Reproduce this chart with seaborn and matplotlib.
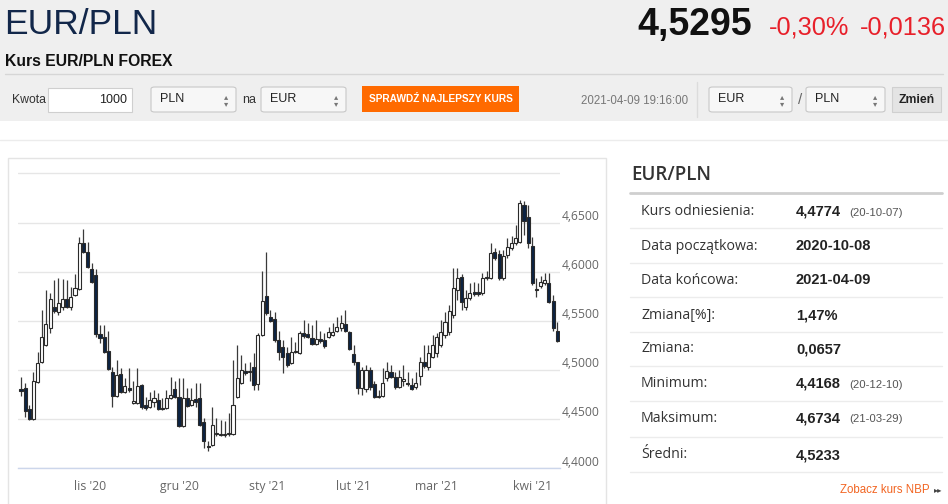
import numpy as np
import pandas as pd
import seaborn as sns
import matplotlib.pyplot as plt
import matplotlib.transforms as mtransforms
from matplotlib.patches import Rectangle, FancyBboxPatch
from matplotlib.lines import Line2D

# ---- data (EUR/PLN daily candles, 2020-10-08 .. 2021-04-09) ----
holidays = ['2020-12-25', '2021-01-01']
dates = pd.bdate_range('2020-10-08', '2021-04-09')
dates = dates[~dates.isin(pd.to_datetime(holidays))]

opens = [4.480, 4.481, 4.460, 4.450, 4.488, 4.508, 4.525, 4.543, 4.564, 4.559,
         4.564, 4.572, 4.564, 4.576, 4.582, 4.629, 4.620, 4.603, 4.597, 4.536,
         4.533, 4.519, 4.498, 4.473, 4.496, 4.477, 4.481, 4.466, 4.466, 4.485,
         4.464, 4.462, 4.467, 4.469, 4.461, 4.461, 4.471, 4.480, 4.472, 4.443,
         4.471, 4.464, 4.470, 4.471, 4.447, 4.422, 4.423, 4.435, 4.435, 4.434,
         4.435, 4.435, 4.472, 4.487, 4.499, 4.498, 4.503, 4.486, 4.535, 4.575,
         4.554, 4.552, 4.530, 4.523, 4.517, 4.507, 4.518, 4.517, 4.537, 4.536,
         4.532, 4.526, 4.531, 4.530, 4.533, 4.535, 4.540, 4.543, 4.547, 4.539,
         4.516, 4.508, 4.481, 4.480, 4.500, 4.486, 4.472, 4.473, 4.492, 4.498,
         4.493, 4.482, 4.489, 4.487, 4.485, 4.482, 4.494, 4.508, 4.503, 4.513,
         4.517, 4.525, 4.535, 4.539, 4.556, 4.581, 4.594, 4.564, 4.573, 4.579,
         4.579, 4.578, 4.593, 4.593, 4.620, 4.618, 4.593, 4.617, 4.624, 4.629,
         4.630, 4.668, 4.656, 4.626, 4.582, 4.585, 4.588, 4.588, 4.570, 4.540]
highs = [4.493, 4.487, 4.464, 4.498, 4.518, 4.561, 4.581, 4.578, 4.591, 4.593,
         4.592, 4.591, 4.584, 4.598, 4.635, 4.643, 4.630, 4.609, 4.603, 4.546,
         4.546, 4.540, 4.503, 4.510, 4.502, 4.492, 4.502, 4.489, 4.502, 4.486,
         4.472, 4.477, 4.479, 4.476, 4.471, 4.479, 4.493, 4.489, 4.492, 4.492,
         4.481, 4.481, 4.487, 4.487, 4.451, 4.428, 4.462, 4.451, 4.449, 4.448,
         4.456, 4.510, 4.525, 4.515, 4.507, 4.508, 4.517, 4.537, 4.601, 4.620,
         4.561, 4.559, 4.540, 4.530, 4.523, 4.533, 4.528, 4.540, 4.551, 4.548,
         4.546, 4.551, 4.540, 4.537, 4.544, 4.548, 4.554, 4.556, 4.561, 4.540,
         4.525, 4.508, 4.503, 4.505, 4.503, 4.489, 4.479, 4.502, 4.508, 4.505,
         4.498, 4.500, 4.505, 4.498, 4.492, 4.498, 4.513, 4.525, 4.525, 4.535,
         4.537, 4.551, 4.559, 4.566, 4.604, 4.604, 4.598, 4.581, 4.588, 4.589,
         4.588, 4.599, 4.601, 4.629, 4.624, 4.622, 4.622, 4.634, 4.636, 4.647,
         4.673, 4.672, 4.668, 4.635, 4.593, 4.596, 4.599, 4.599, 4.576, 4.549]
lows = [4.473, 4.452, 4.449, 4.449, 4.487, 4.507, 4.524, 4.537, 4.558, 4.556,
        4.561, 4.563, 4.561, 4.575, 4.581, 4.619, 4.604, 4.588, 4.533, 4.527,
        4.517, 4.500, 4.462, 4.472, 4.476, 4.476, 4.477, 4.465, 4.465, 4.460,
        4.459, 4.461, 4.462, 4.459, 4.459, 4.460, 4.470, 4.471, 4.442, 4.442,
        4.462, 4.463, 4.462, 4.443, 4.420, 4.417, 4.422, 4.433, 4.433, 4.432,
        4.433, 4.434, 4.471, 4.486, 4.495, 4.489, 4.479, 4.479, 4.534, 4.556,
        4.549, 4.528, 4.510, 4.497, 4.503, 4.506, 4.517, 4.516, 4.532, 4.532,
        4.525, 4.525, 4.527, 4.522, 4.532, 4.534, 4.539, 4.540, 4.538, 4.520,
        4.505, 4.475, 4.474, 4.477, 4.479, 4.471, 4.471, 4.472, 4.489, 4.492,
        4.480, 4.481, 4.484, 4.483, 4.479, 4.480, 4.485, 4.502, 4.500, 4.512,
        4.513, 4.523, 4.532, 4.535, 4.553, 4.571, 4.561, 4.561, 4.571, 4.575,
        4.575, 4.576, 4.591, 4.592, 4.612, 4.591, 4.591, 4.614, 4.622, 4.627,
        4.629, 4.637, 4.624, 4.586, 4.574, 4.583, 4.586, 4.568, 4.540, 4.528]
closes = [4.478, 4.458, 4.450, 4.489, 4.507, 4.533, 4.547, 4.572, 4.560, 4.568,
          4.572, 4.564, 4.574, 4.583, 4.629, 4.620, 4.605, 4.589, 4.536, 4.532,
          4.518, 4.501, 4.473, 4.495, 4.477, 4.484, 4.479, 4.468, 4.484, 4.462,
          4.461, 4.469, 4.471, 4.460, 4.460, 4.471, 4.474, 4.472, 4.443, 4.471,
          4.463, 4.469, 4.467, 4.444, 4.428, 4.421, 4.444, 4.436, 4.434, 4.435,
          4.436, 4.464, 4.492, 4.500, 4.497, 4.498, 4.485, 4.535, 4.570, 4.558,
          4.550, 4.530, 4.518, 4.513, 4.505, 4.518, 4.519, 4.537, 4.534, 4.533,
          4.526, 4.531, 4.529, 4.524, 4.538, 4.539, 4.544, 4.548, 4.540, 4.521,
          4.508, 4.481, 4.500, 4.500, 4.482, 4.472, 4.473, 4.487, 4.499, 4.493,
          4.482, 4.493, 4.491, 4.486, 4.480, 4.487, 4.508, 4.504, 4.517, 4.525,
          4.533, 4.538, 4.549, 4.560, 4.583, 4.593, 4.569, 4.573, 4.578, 4.577,
          4.577, 4.593, 4.594, 4.619, 4.614, 4.593, 4.616, 4.625, 4.629, 4.634,
          4.670, 4.652, 4.629, 4.588, 4.581, 4.589, 4.591, 4.569, 4.543, 4.5295]

month_starts = ['2020-11-01', '2020-12-01', '2021-01-01', '2021-02-01', '2021-03-01', '2021-04-01']
month_labels = ["lis '20", "gru '20", "sty '21", "lut '21", "mar '21", "kwi '21"]
y_ticks = [4.40, 4.45, 4.50, 4.55, 4.60, 4.65, 4.70]
y_labels = ['4,4000', '4,4500', '4,5000', '4,5500', '4,6000', '4,6500', '']

stat_labels = ['Kurs odniesienia:', 'Data początkowa:', 'Data końcowa:', 'Zmiana[%]:',
               'Zmiana:', 'Minimum:', 'Maksimum:', 'Średni:']
stat_values = ['4,4774', '2020-10-08', '2021-04-09', '1,47%', '0,0657', '4,4168', '4,6734', '4,5233']
stat_notes = ['(20-10-07)', '', '', '', '', '(20-12-10)', '(21-03-29)', '']

df = pd.DataFrame({'date': dates, 'open': opens, 'high': highs, 'low': lows, 'close': closes})
df['i'] = np.arange(len(df))
df['down'] = df['close'] < df['open']

# ---- figure ----
sns.set_style('white')
SANS = ['Liberation Sans', 'DejaVu Sans']
OPEN = ['Open Sans', 'DejaVu Sans']
plt.rcParams['font.family'] = SANS

W, H = 948, 504
fig = plt.figure(figsize=(W / 100, H / 100), dpi=100)
fig.patch.set_facecolor('white')


def fx(x):
    return x / W


def fy(y):
    return 1 - y / H


def txt(x, y, s, **kw):
    kw.setdefault('va', 'center')
    fig.text(fx(x), fy(y), s, **kw)


def rect(x0, y0, x1, y1, fc, ec='none', lw=1, rounded=False, z=-1):
    if rounded:
        p = FancyBboxPatch((fx(x0), fy(y1)), fx(x1) - fx(x0), fy(y0) - fy(y1),
                           boxstyle='round,pad=0,rounding_size=0.004',
                           transform=fig.transFigure, fc=fc, ec=ec, lw=lw, zorder=z)
    else:
        p = Rectangle((fx(x0), fy(y1)), fx(x1) - fx(x0), fy(y0) - fy(y1),
                      transform=fig.transFigure, fc=fc, ec=ec, lw=lw, zorder=z)
    fig.add_artist(p)


def hline(x0, x1, y, color, lw=1):
    fig.add_artist(Line2D([fx(x0), fx(x1)], [fy(y), fy(y)], transform=fig.transFigure,
                          color=color, lw=lw, zorder=-0.5))


def select(x0, x1, label):
    rect(x0, 87, x1, 112, '#f7f7f7', '#c8c8c8', 0.8, rounded=True)
    txt(x0 + 9, 99.5, label, fontsize=9, color='#222')
    txt(x1 - 10, 100, '▴\n▾', fontsize=6, color='#777', ha='center', linespacing=0.8,
        family=['DejaVu Sans'])


# header band
rect(0, 0, W, 121, '#efefef', z=-2)
txt(4, 25, 'EUR/PLN', fontsize=25.5, color='#12274a')
txt(752, 25, '4,5295', fontsize=27, color='#111', fontweight='bold', ha='right')
txt(769, 28, '-0,30%', fontsize=18.3, color='#e8202a')
txt(860, 28, '-0,0136', fontsize=18.3, color='#e8202a')
txt(5, 61, 'Kurs EUR/PLN FOREX', fontsize=11.3, color='#111', fontweight='bold')
hline(5, 943, 73.5, '#d6d6d6')

txt(12, 100, 'Kwota', fontsize=8.8, color='#333')
rect(48, 88, 132, 112, 'white', '#cfcfcf', 0.8)
txt(127, 100, '1000', fontsize=9, color='#222', ha='right')
select(151, 236, 'PLN')
txt(242, 100, 'na', fontsize=9, color='#333')
select(261, 346, 'EUR')
rect(362, 86, 519, 112, '#ff6a00')
txt(440.5, 99.5, 'SPRAWDŹ NAJLEPSZY KURS', fontsize=7.3, color='white', fontweight='bold', ha='center')
txt(581, 101, '2021-04-09 19:16:00', fontsize=8.3, color='#777')
fig.add_artist(Line2D([fx(697), fx(697)], [fy(82), fy(117)], transform=fig.transFigure,
                      color='#dcdcdc', lw=1, zorder=-0.5))
select(709, 792, 'EUR')
txt(800, 100, '/', fontsize=11, color='#666', ha='center')
select(806, 885, 'PLN')
rect(892, 87, 941, 112, '#e4e4e4', '#d0d0d0', 0.8)
txt(916.5, 100, 'Zmień', fontsize=8.8, color='#222', fontweight='bold', ha='center')

hline(0, W, 140, '#ececec')
rect(8, 158, 606, 506, 'white', '#e4e4e4', 1, z=-1)

# ---- candlestick chart ----
ax = fig.add_axes([fx(18), fy(468), fx(560) - fx(18), fy(160) - fy(468)])
ax.set_zorder(1)
ax.patch.set_alpha(0)
ax.set_xlim(-0.72, 129.66)
ax.set_ylim(4.40, 4.40 + 308 / 982)

for t in y_ticks:
    ax.axhline(t, color='#e6e6e6', lw=1, zorder=0)

ax.vlines(df['i'], df['low'], df['high'], color='#3a3a3a', lw=0.9, zorder=2)
body_lo = df[['open', 'close']].min(axis=1)
body_h = (df['close'] - df['open']).abs().clip(lower=0.0006)
fills = np.where(df['down'], '#0c2343', 'white')
ax.bar(df['i'], body_h, bottom=body_lo, width=0.74, color=fills,
       edgecolor='#2a2a2a', linewidth=0.8, zorder=3)

# month ticks on the ordinal axis
t_num = df['date'].astype('int64').to_numpy()
m_num = pd.to_datetime(month_starts).astype('int64').to_numpy()
tick_pos = np.interp(m_num, t_num, df['i'].to_numpy())
ax.set_xticks(tick_pos)
ax.set_xticklabels(month_labels, fontsize=8.8, color='#666', family=OPEN)
ax.tick_params(axis='x', length=7, width=1, color='#ccd6eb', pad=1.5, direction='out')
ax.set_yticks([])
sns.despine(ax=ax, left=True, right=True, top=True)
ax.spines['bottom'].set_color('#ccd6eb')
ax.spines['bottom'].set_linewidth(1)

off = mtransforms.ScaledTranslation(0, 6 / 100, fig.dpi_scale_trans)
ytrans = mtransforms.blended_transform_factory(ax.transAxes, ax.transData) + off
for t, lab in zip(y_ticks, y_labels):
    ax.text(1.003, t, lab, transform=ytrans, fontsize=8.7, color='#666', family=OPEN,
            ha='left', va='center', clip_on=False)

# ---- stats panel ----
txt(631, 175, 'EUR/PLN', fontsize=13.5, color='#333', fontweight='semibold', family=OPEN)
hline(630, 942, 193, '#cfcfcf', 2)
row_y = [211.5, 246, 280.5, 315, 349, 383.5, 418.5, 455]
sep_y = [228.3, 263.3, 296.7, 331.7, 366, 400.7, 436.7, 471.7]
for yy, lab, val, note in zip(row_y, stat_labels, stat_values, stat_notes):
    txt(641, yy, lab, fontsize=10.2, color='#333', family=OPEN)
    txt(796, yy, val, fontsize=10.5, color='#222', fontweight='bold')
    if note:
        txt(849, yy + 1, note, fontsize=8.2, color='#555')
for yy in sep_y:
    hline(630, 942, yy, '#ececec')
txt(930, 490, 'Zobacz kurs NBP', fontsize=8.3, color='#f26522', ha='right')
txt(942, 490, '▸▸', fontsize=6, color='#444', ha='right', family=['DejaVu Sans'])

fig.savefig('out.png', dpi=100)
